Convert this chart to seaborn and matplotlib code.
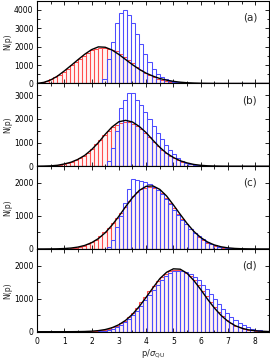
import pandas as pd
import matplotlib
matplotlib.use("Agg")
import matplotlib.pyplot as plt
import seaborn as sns
from matplotlib.ticker import MultipleLocator

sns.set_theme(style="ticks")
plt.rcParams["font.family"] = ["DejaVu Sans"]
plt.rcParams["mathtext.fontset"] = "dejavusans"

# histogram bins (width 0.15) and the grid of the model curve
bin_edges = [round(0.15 * k, 2) for k in range(58)]
bin_centers = [round(0.15 * k + 0.075, 3) for k in range(57)]
curve_x = [0.25 * k for k in range(35)]

panel_labels = ["(a)", "(b)", "(c)", "(d)"]
y_tops = [4500, 3500, 2500, 2500]

# red histograms
red_a = [20, 60, 130, 220, 340, 480, 640, 810, 990, 1170, 1350, 1520, 1680, 1800,
         1880, 1920, 1930, 1900, 1840, 1750, 1620, 1460, 1280, 1090, 900, 730, 580,
         450, 340, 250, 180, 125, 85, 55, 35, 22, 13, 7, 4, 2,
         0, 0, 0, 0, 0, 0, 0, 0, 0, 0, 0, 0, 0, 0, 0, 0, 0]
red_b = [0, 5, 10, 20, 35, 60, 90, 130, 180, 250, 340, 450, 580, 740, 920, 1110,
         1300, 1480, 1640, 1760, 1840, 1870, 1850, 1800, 1700, 1560, 1400, 1220,
         1040, 860, 700, 560, 430, 330, 250, 180, 130, 90, 60, 40, 25, 15, 8, 4,
         0, 0, 0, 0, 0, 0, 0, 0, 0, 0, 0, 0, 0]
red_c = [0, 0, 0, 1, 2, 3, 5, 10, 20, 35, 55, 90, 140, 200, 280, 380, 500, 640,
         790, 940, 1100, 1280, 1450, 1600, 1720, 1800, 1850, 1860, 1840, 1780,
         1680, 1550, 1400, 1240, 1070, 900, 740, 600, 470, 360, 270, 195, 140, 95,
         65, 42, 27, 17, 10, 6, 3, 2, 0, 0, 0, 0, 0]
red_d = [0, 0, 0, 0, 0, 0, 0, 0, 0, 0, 0, 5, 10, 18, 28, 42, 62, 90, 130, 185,
         250, 335, 440, 560, 730, 890, 1050, 1220, 1380, 1520, 1650, 1750, 1820,
         1850, 1860, 1840, 1780, 1680, 1550, 1400, 1240, 1070, 900, 740, 590, 460,
         350, 260, 185, 130, 90, 60, 40, 25, 15, 9, 5]

# blue histograms
blue_a = [0, 0, 0, 0, 0, 0, 0, 0, 0, 0, 0, 0, 0, 0, 0, 30, 250, 1350, 2250,
          3300, 3850, 3980, 3750, 3300, 2700, 2160, 1620, 1160, 800, 530, 350,
          220, 140, 90, 55, 35, 20, 10, 5, 2,
          0, 0, 0, 0, 0, 0, 0, 0, 0, 0, 0, 0, 0, 0, 0, 0, 0]
blue_b = [0, 0, 0, 0, 0, 0, 0, 0, 0, 0, 0, 0, 0, 0, 0, 0, 30, 200, 750, 1500,
          2450, 2800, 3080, 3080, 2800, 2600, 2300, 2000, 1700, 1420, 1140, 890,
          680, 510, 350, 240, 155, 100, 60, 40, 25, 15, 8, 4, 2,
          0, 0, 0, 0, 0, 0, 0, 0, 0, 0, 0, 0]
blue_c = [0, 0, 0, 0, 0, 0, 0, 0, 0, 0, 0, 0, 0, 0, 0, 0, 10, 60, 280, 650,
          1000, 1400, 1800, 2120, 2080, 2060, 2020, 1960, 1880, 1780, 1660, 1520,
          1360, 1190, 1030, 880, 740, 610, 490, 380, 290, 210, 150, 105, 70, 45,
          28, 17, 10, 5, 3, 0, 0, 0, 0, 0, 0]
blue_d = [0, 0, 0, 0, 0, 0, 0, 0, 0, 0, 0, 0, 0, 0, 0, 10, 25, 50, 85, 135,
          200, 280, 380, 500, 640, 790, 950, 1110, 1270, 1420, 1560, 1680, 1770,
          1820, 1840, 1840, 1810, 1750, 1660, 1550, 1420, 1280, 1130, 980, 830,
          690, 560, 440, 340, 260, 190, 135, 95, 65, 42, 28, 18]

# model curves (black), read on a 0.25 grid
curve_a = [0, 60, 190, 400, 680, 980, 1290, 1590, 1840, 1990, 1970, 1820, 1580,
           1300, 1020, 770, 560, 400, 270, 180, 115, 70, 40, 22, 11, 5, 2,
           0, 0, 0, 0, 0, 0, 0, 0]
curve_b = [0, 5, 15, 40, 95, 170, 290, 460, 700, 1000, 1350, 1660, 1880, 1940,
           1870, 1680, 1420, 1100, 800, 550, 370, 230, 140, 75, 38, 18, 8, 3,
           0, 0, 0, 0, 0, 0, 0]
curve_c = [0, 0, 2, 5, 13, 28, 57, 107, 189, 314, 490, 720, 987, 1280, 1550, 1770,
           1893, 1905, 1800, 1600, 1330, 1045, 770, 530, 346, 211, 121, 65, 33,
           16, 7, 3, 1, 0, 0]
curve_d = [0, 0, 0, 0, 0, 1, 3, 7, 16, 33, 65, 121, 211, 345, 527, 765, 1040,
           1327, 1602, 1796, 1900, 1889, 1765, 1545, 1276, 983, 718, 490, 313,
           188, 107, 57, 28, 13, 5]

reds = [red_a, red_b, red_c, red_d]
blues = [blue_a, blue_b, blue_c, blue_d]
curves = [curve_a, curve_b, curve_c, curve_d]

fig, axes = plt.subplots(4, 1, sharex=True, figsize=(2.7, 3.59), dpi=100)
fig.subplots_adjust(left=0.137, right=0.996, top=0.998, bottom=0.076, hspace=0)

for i, ax in enumerate(axes):
    df = pd.DataFrame({"p": bin_centers, "red": reds[i], "blue": blues[i]})
    sns.histplot(data=df, x="p", weights="red", bins=bin_edges, ax=ax,
                 facecolor=(1, 0.3, 0.3, 0.06), edgecolor=(1, 0.3, 0.3, 1),
                 linewidth=0.75)
    sns.histplot(data=df, x="p", weights="blue", bins=bin_edges, ax=ax,
                 facecolor="none", edgecolor=(0.3, 0.3, 1, 1),
                 linewidth=0.75)
    sns.lineplot(x=curve_x, y=curves[i], ax=ax, color="black", linewidth=1.0)

    ax.set_xlim(0, 8.5)
    ax.set_ylim(0, y_tops[i])
    ax.xaxis.set_major_locator(MultipleLocator(1))
    ax.xaxis.set_minor_locator(MultipleLocator(0.5))
    ax.yaxis.set_major_locator(MultipleLocator(1000))
    ax.yaxis.set_minor_locator(MultipleLocator(500))
    ax.tick_params(which="both", direction="in", top=True, right=True,
                   labelsize=5.5, width=0.6, colors="black", pad=2.5)
    ax.tick_params(which="major", length=3)
    ax.tick_params(which="minor", length=1.8)
    ax.tick_params(axis="x", pad=3.5)
    for sp in ax.spines.values():
        sp.set_linewidth(0.8)
        sp.set_color("black")
    ax.set_ylabel("N(p)", fontsize=5.5)
    ax.yaxis.set_label_coords(-0.105, 0.5)
    ax.text(0.918, 0.80, panel_labels[i], transform=ax.transAxes,
            ha="center", va="center", fontsize=7.5)

axes[-1].set_xlabel(r"p/$\sigma_{\rm QU}$", fontsize=6, labelpad=1.5)

fig.savefig("out.png", dpi=100)
